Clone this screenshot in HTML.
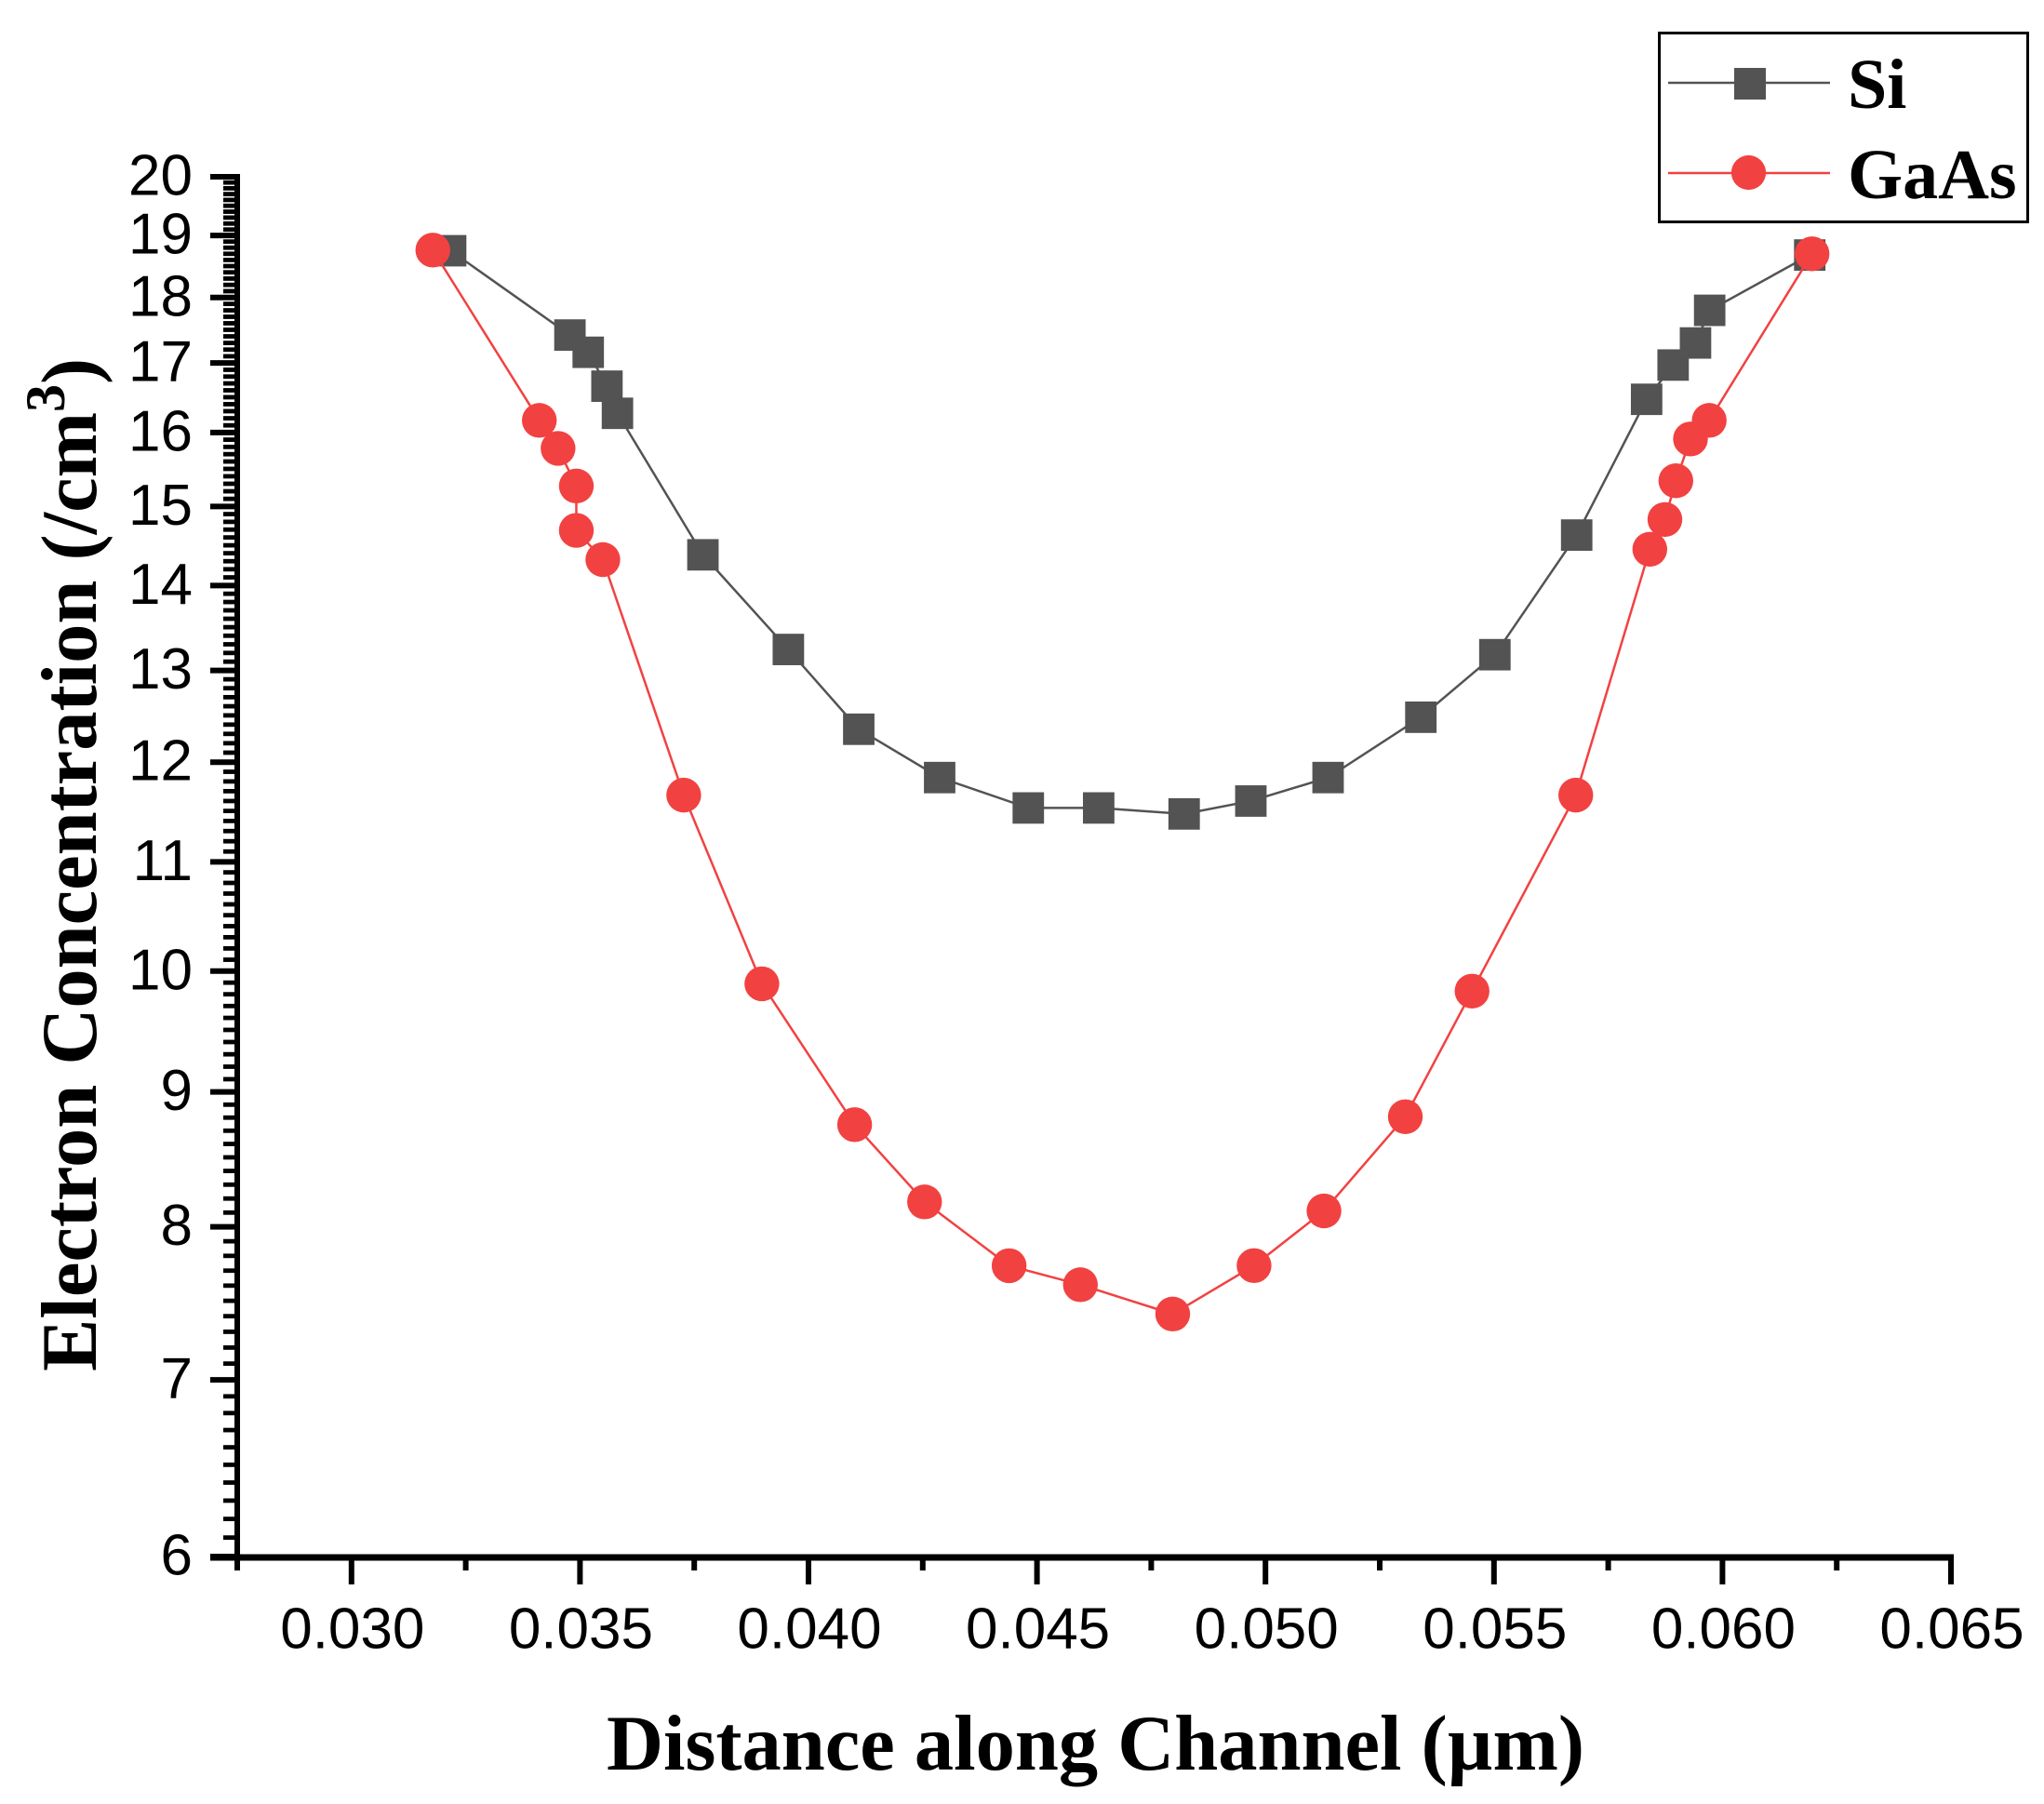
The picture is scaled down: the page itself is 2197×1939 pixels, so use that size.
<!DOCTYPE html>
<html lang="en">
<head>
<meta charset="utf-8">
<title>Electron Concentration along Channel</title>
<style>
  html, body { margin: 0; padding: 0; background: #fff; }
  svg { display: block; }
  .tick-label { font-family: "Liberation Sans", Arial, sans-serif; font-size: 62px; fill: #000; }
  .title { font-family: "Liberation Serif", "Times New Roman", serif; font-weight: bold; font-size: 84.5px; fill: #000; }
  .legend-label { font-family: "Liberation Serif", "Times New Roman", serif; font-weight: bold; font-size: 76px; fill: #000; }
</style>
</head>
<body>
<svg id="chart" xmlns="http://www.w3.org/2000/svg" width="2197" height="1939" viewBox="0 0 2197 1939">
  <rect x="0" y="0" width="2197" height="1939" fill="#ffffff"/>
  <g id="ticks"></g>
  <g id="tick-labels"></g>
  <rect x="252" y="187" width="6" height="1489" fill="#000"/>
  <rect x="226" y="1670.5" width="1874" height="7" fill="#000"/>
  <g id="series"></g>

  <text class="title" x="652" y="1902">Distance along Channel (µm)</text>
  <text class="title" transform="translate(103 1474) rotate(-90)" x="0" y="0">Electron Concentration (/cm<tspan font-size="60" dy="-34">3</tspan><tspan dy="34">)</tspan></text>

  <g>
    <rect x="1783.5" y="35.5" width="396" height="203" fill="#fff" stroke="#000" stroke-width="3"/>
    <line x1="1793" y1="89" x2="1967" y2="89" stroke="#535353" stroke-width="2.4"/>
    <rect x="1864" y="73" width="34" height="34" fill="#535353"/>
    <text class="legend-label" x="1986" y="116">Si</text>
    <line x1="1793" y1="186" x2="1967" y2="186" stroke="#f24141" stroke-width="2.4"/>
    <circle cx="1879.5" cy="185.5" r="18.6" fill="#f24141"/>
    <text class="legend-label" x="1986" y="213">GaAs</text>
  </g>
</svg>
<script>
const xMajorTicks = [0.030, 0.035, 0.040, 0.045, 0.050, 0.055, 0.060, 0.065];
const xMajorLabels = ["0.030", "0.035", "0.040", "0.045", "0.050", "0.055", "0.060", "0.065"];
const xMinorTicks = [0.0275, 0.0325, 0.0375, 0.0425, 0.0475, 0.0525, 0.0575, 0.0625];
const yMajorTicks = [6, 7, 8, 9, 10, 11, 12, 13, 14, 15, 16, 17, 18, 19, 20];
const yMajorLabels = ["6", "7", "8", "9", "10", "11", "12", "13", "14", "15", "16", "17", "18", "19", "20"];

const siX = [0.03217, 0.03478, 0.03518, 0.03559, 0.03582, 0.03769, 0.03956, 0.04110, 0.04287, 0.04481, 0.04635, 0.04822, 0.04968, 0.05137, 0.05340, 0.05502, 0.05681, 0.05834, 0.05892, 0.05941, 0.05972, 0.06191];
const siY = [18.75, 17.42, 17.16, 16.66, 16.27, 14.38, 13.24, 12.35, 11.84, 11.53, 11.53, 11.47, 11.60, 11.84, 12.48, 13.18, 14.63, 16.47, 16.97, 17.30, 17.80, 18.68];
const gaasX = [0.03178, 0.03411, 0.03452, 0.03492, 0.03492, 0.03550, 0.03727, 0.03898, 0.04101, 0.04254, 0.04439, 0.04595, 0.04797, 0.04975, 0.05128, 0.05306, 0.05452, 0.05679, 0.05841, 0.05874, 0.05898, 0.05930, 0.05971, 0.06196];
const gaasY = [18.76, 16.17, 15.78, 15.27, 14.69, 14.32, 11.66, 9.89, 8.746, 8.176, 7.733, 7.606, 7.414, 7.734, 8.112, 8.807, 9.827, 11.66, 14.45, 14.83, 15.34, 15.91, 16.17, 18.70];

const NS = "http://www.w3.org/2000/svg";
const X_MIN = 0.0275, X_MAX = 0.065, X_LEFT = 255, X_RIGHT = 2097;
const Y_MIN = 6, Y_MAX = 20, Y_BOTTOM = 1673, Y_TOP = 190;

function xScale(v) {
  return X_LEFT + (v - X_MIN) / (X_MAX - X_MIN) * (X_RIGHT - X_LEFT);
}
function yScale(v) {
  return Y_BOTTOM - Math.log(v / Y_MIN) / Math.log(Y_MAX / Y_MIN) * (Y_BOTTOM - Y_TOP);
}
function make(tag, attrs, parent) {
  const el = document.createElementNS(NS, tag);
  for (const k in attrs) el.setAttribute(k, attrs[k]);
  parent.appendChild(el);
  return el;
}

const tickGroup = document.getElementById("ticks");
const labelGroup = document.getElementById("tick-labels");
const seriesGroup = document.getElementById("series");

xMajorTicks.forEach(function (v, i) {
  const t = make("line", { x1: xScale(v), x2: xScale(v), y1: 1673, y2: 1703, stroke: "#000", "stroke-width": 6 }, tickGroup);
  
  
  const l = make("text", { x: xScale(v) + 1, y: 1771.5, "text-anchor": "middle", class: "tick-label" }, labelGroup);
  l.textContent = xMajorLabels[i];
  
  
});
xMinorTicks.forEach(function (v) {
  const t = make("line", { x1: xScale(v), x2: xScale(v), y1: 1673, y2: 1688, stroke: "#000", "stroke-width": 6 }, tickGroup);
  
  
});
for (let n = 61; n < 200; n++) {
  const v = n / 10;
  if (n % 10 === 0) continue;
  const t = make("line", { x1: 240, x2: 255, y1: yScale(v), y2: yScale(v), stroke: "#000", "stroke-width": 4.8 }, tickGroup);
  
  
}
yMajorTicks.forEach(function (v, i) {
  const t = make("line", { x1: 226, x2: 255, y1: yScale(v), y2: yScale(v), stroke: "#000", "stroke-width": 6 }, tickGroup);
  
  
  const l = make("text", { x: 207, y: yScale(v) + 19.5, "text-anchor": "end", class: "tick-label" }, labelGroup);
  l.textContent = yMajorLabels[i];
  
  
});

function polyPoints(xs, ys) {
  return xs.map(function (x, i) { return xScale(x) + "," + yScale(ys[i]); }).join(" ");
}

const siLine = make("polyline", { points: polyPoints(siX, siY), fill: "none", stroke: "#535353", "stroke-width": 2.5 }, seriesGroup);


siX.forEach(function (x, i) {
  const m = make("rect", { x: xScale(x) - 16.9, y: yScale(siY[i]) - 16.9, width: 33.8, height: 33.8, fill: "#535353" }, seriesGroup);
  
  
});

const gaasLine = make("polyline", { points: polyPoints(gaasX, gaasY), fill: "none", stroke: "#f24141", "stroke-width": 2.5 }, seriesGroup);


gaasX.forEach(function (x, i) {
  const m = make("circle", { cx: xScale(x), cy: yScale(gaasY[i]), r: 18.7, fill: "#f24141" }, seriesGroup);
  
  
});
</script>
</body>
</html>
